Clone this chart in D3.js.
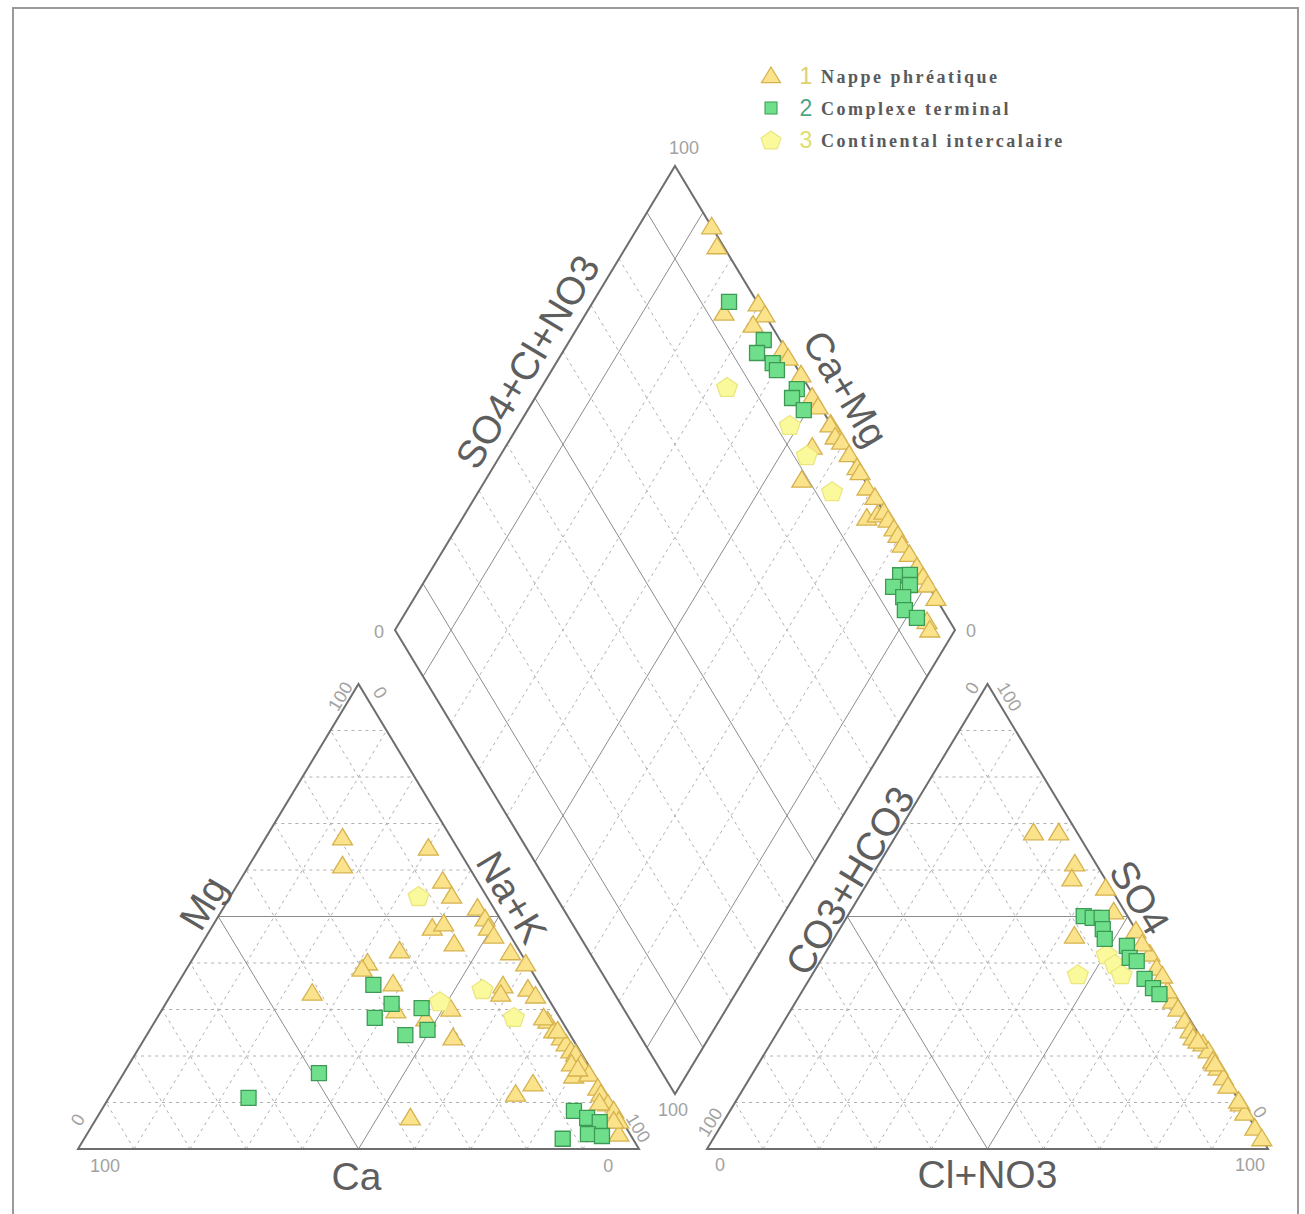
<!DOCTYPE html>
<html>
<head>
<meta charset="utf-8">
<script src="https://cdn.jsdelivr.net/npm/d3@7"></script>
<style>
  html, body { margin: 0; padding: 0; background: #fff; }
  svg { display: block; }
</style>
</head>
<body>
<svg id="chart" width="1305" height="1214"></svg>
<script>
// ---- Sample compositions (% meq) ----
// Cation triangle: [Mg, Na+K]  (Ca = 100 - Mg - Na+K)
const nappeCations = [
  [66.9,13.7],[60.9,16.7],[64.7,30.1],[57.6,36.2],[54.4,39.4],[47.5,39.4],[48.4,41.0],[44.1,45.0],
  [42.6,36.0],[40.0,31.6],[38.7,31.3],[33.5,25.0],[35.5,38.4],[29.7,41.8],[30.1,51.4],[28.0,48.0],
  [23.9,54.9],[51.8,45.3],[49.5,47.8],[47.5,49.4],[45.8,51.2],[42.2,56.0],[39.8,59.9],[35.1,58.2],
  [33.3,58.7],[34.4,63.0],[32.9,65.1],[27.5,70.0],[25.4,72.1],[23.9,74.2],[22.6,75.7],[21.1,77.3],
  [20.4,78.5],[18.3,80.5],[15.7,80.5],[16.1,83.0],[13.1,86.1],[11.8,87.3],[9.7,89.6],[8.2,91.4],
  [6.0,93.4],[3.2,94.8],[14.0,74.1],[11.8,72.1],[6.7,55.9],[28.2,68.9],[25.4,72.8],[18.3,78.8],
  [17.2,80.5],[9.9,88.0],[6.0,92.5]
];
const complexeCations = [
  [35.3,35.0],[31.2,40.3],[28.2,38.8],[30.3,46.1],[24.5,46.1],[25.6,49.5],[16.3,34.8],
  [11.0,24.9],[8.2,84.3],[6.7,87.4],[5.8,90.1],[3.2,89.3],[2.8,92.0],[2.2,85.3]
];
const continentalCations = [[54.4,33.5],[31.8,48.6],[34.4,54.9],[28.4,63.5]];

// Anion triangle: [SO4, Cl+NO3]  (CO3+HCO3 = 100 - SO4 - Cl)
const nappeAnions = [
  [68.0,24.2],[68.0,28.7],[61.3,34.9],[58.1,36.0],[56.1,43.0],[51.0,47.0],[45.8,42.6],[46.9,53.0],
  [41.9,58.0],[38.9,60.7],[31.8,67.1],[30.1,68.9],[27.5,71.4],[25.4,73.4],[23.9,74.7],[22.6,77.1],
  [21.1,78.8],[18.9,80.7],[17.4,82.4],[15.3,84.4],[13.5,86.1],[9.7,90.2],[7.7,92.0],[4.5,95.4],
  [2.2,97.8],[34.0,65.1],[44.1,55.5],[37.2,62.6],[23.2,75.9],[18.3,81.4],[10.3,89.6]
];
const complexeAnions = [
  [50.1,42.1],[49.7,43.9],[49.7,45.5],[47.3,46.9],[45.2,48.3],[43.7,53.0],[41.1,54.8],
  [40.4,56.4],[36.6,59.7],[34.6,62.2],[33.3,64.0]
];
const continentalAnions = [[41.9,50.3],[39.8,52.8],[37.6,55.1],[37.6,47.3]];

// Diamond: [Na+K, SO4+Cl+NO3]
const nappeDiamond = [
  [13.1,100],[16.2,98.8],[24.6,92.9],[29.7,100],[32.1,100],[31.1,96.8],[39.1,99.4],[40.9,99.5],
  [45.0,100],[49.4,99.6],[51.5,99.6],[55.6,100],[57.7,100],[55.6,99.8],[57.8,99.4],[59.5,100],
  [54.8,94.2],[56.5,88.8],[62.2,100],[65.0,100],[66.1,100],[69.0,99.6],[71.4,100],[72.2,96.3],
  [73.7,98.5],[74.6,100],[76.2,99.9],[78.2,100],[79.6,100],[81.4,99.7],[83.7,100],[86.4,100],
  [88.6,100],[90.3,100],[93.2,100],[94.1,95.9],[95.5,95.5]
];
const complexeDiamond = [
  [24.3,95.0],[34.6,97.1],[34.8,94.5],[38.7,96.2],[40.2,96.2],[45.8,97.7],[45.9,95.9],[49.3,96.7],
  [84.3,96.1],[86.0,97.9],[84.3,93.6],[87.1,96.8],[87.2,94.3],[88.9,93.2],[91.9,94.5]
];
const continentalDiamond = [[33.1,85.5],[48.4,92.6],[54.7,92.4],[63.1,93.0]];

const groupNames = ["Nappe phréatique", "Complexe terminal", "Continental intercalaire"];
const groupNumbers = ["1", "2", "3"];
const gridSteps = [10, 20, 30, 40, 50, 60, 70, 80, 90];
const axisTitles = {
  mg: "Mg", ca: "Ca", nak: "Na+K",
  hco3: "CO3+HCO3", cl: "Cl+NO3", so4: "SO4",
  anionSum: "SO4+Cl+NO3", cationSum: "Ca+Mg"
};

// ---- Layout ----
const svg = d3.select("#chart");
const triY = d3.scaleLinear().domain([0, 100]).range([1149, 684]);
const catX = d3.scaleLinear().domain([0, 100]).range([78, 639]);
const anX  = d3.scaleLinear().domain([0, 100]).range([707, 1268]);
const dmX  = d3.scaleLinear().domain([0, 200]).range([395, 955]);
const dmY  = d3.scaleLinear().domain([-100, 100]).range([166, 1094]);

// projections (ternary and diamond) built on the linear scales
const cat = (mg, na) => [catX(na + mg / 2), triY(mg)];
const an  = (so4, cl) => [anX(cl + so4 / 2), triY(so4)];
const dia = (na, sc) => [dmX(sc + na), dmY(na - sc)];

const EDGE = "#6e6e6e", SOLID = "#8c8c8c", DASH = "#b0b0b0";
const TITLE_FONT = "'Liberation Sans', Arial, sans-serif";

// frame
svg.append("rect").attr("x", 13).attr("y", 8).attr("width", 1285).attr("height", 1215)
  .attr("fill", "none").attr("stroke", "#9a9a9a").attr("stroke-width", 2);

const gGrid = svg.append("g");
const lineGen = d3.line();

function seg(a, b, solid) {
  gGrid.append("path").attr("d", lineGen([a, b]))
    .attr("fill", "none")
    .attr("stroke", solid ? SOLID : DASH)
    .attr("stroke-width", 1)
    .attr("stroke-dasharray", solid ? null : "3,4");
}
function outline(pts) {
  gGrid.append("path").attr("d", lineGen(pts) + "Z")
    .attr("fill", "none").attr("stroke", EDGE).attr("stroke-width", 2)
    .attr("stroke-linejoin", "miter");
}

// ternary grids
function ternaryGrid(proj) {
  gridSteps.forEach(k => {
    const solid = k === 50;
    seg(proj(k, 0), proj(k, 100 - k), solid);        // first component const
    seg(proj(0, k), proj(100 - k, k), solid);        // second component const
    seg(proj(0, 100 - k), proj(100 - k, 0), solid);  // remainder const
  });
  outline([proj(0, 0), proj(100, 0), proj(0, 100)]);
}
ternaryGrid(cat);
ternaryGrid(an);

// diamond grid
gridSteps.forEach(k => {
  const solid = k === 10 || k === 50 || k === 90;
  seg(dia(k, 0), dia(k, 100), solid);
  seg(dia(0, k), dia(100, k), solid);
});
outline([dia(0, 0), dia(0, 100), dia(100, 100), dia(100, 0)]);

// ---- Labels ----
const gText = svg.append("g");

function edgeLabel(p0, p1, t, off, text, size, color) {
  const dx = p1[0] - p0[0], dy = p1[1] - p0[1];
  const ang = Math.atan2(dy, dx);
  const ux = Math.sin(ang), uy = -Math.cos(ang);
  const x = p0[0] + t * dx + off * ux, y = p0[1] + t * dy + off * uy;
  gText.append("text")
    .attr("transform", `translate(${x},${y}) rotate(${ang * 180 / Math.PI})`)
    .attr("text-anchor", "middle").attr("dominant-baseline", "central")
    .attr("font-family", TITLE_FONT).attr("font-size", size)
    .attr("fill", color).text(text);
}
function plainLabel(x, y, text, size, color) {
  gText.append("text").attr("x", x).attr("y", y)
    .attr("text-anchor", "middle").attr("dominant-baseline", "central")
    .attr("font-family", TITLE_FONT).attr("font-size", size)
    .attr("fill", color).text(text);
}

const TC = "#5e5e5e", TS = 39, KC = "#a2a2a2", KS = 18;

// cation triangle
const cBL = cat(0, 0), cBR = cat(0, 100), cTop = cat(100, 0);
edgeLabel(cBL, cTop, 0.507, 20, axisTitles.mg, TS, TC);
edgeLabel(cTop, cBR, 0.482, 21, axisTitles.nak, TS, TC);
plainLabel((cBL[0] + cBR[0]) / 2 - 2, 1176, axisTitles.ca, TS, TC);
edgeLabel(cBL, cTop, 0.046, 15, "0", KS, KC);
edgeLabel(cBL, cTop, 0.963, 9, "100", KS, KC);
edgeLabel(cTop, cBR, 0.034, 14, "0", KS, KC);
edgeLabel(cTop, cBR, 0.966, 10, "100", KS, KC);
plainLabel(catX(4.8), 1166, "100", KS, KC);
plainLabel(catX(94.5), 1166, "0", KS, KC);

// anion triangle
const aBL = an(0, 0), aBR = an(0, 100), aTop = an(100, 0);
edgeLabel(aBL, aTop, 0.559, 16, axisTitles.hco3, TS, TC);
edgeLabel(aTop, aBR, 0.481, 20, axisTitles.so4, TS, TC);
plainLabel((aBL[0] + aBR[0]) / 2, 1174, axisTitles.cl, TS, TC);
edgeLabel(aBL, aTop, 0.045, 11, "100", KS, KC);
edgeLabel(aBL, aTop, 0.979, 11, "0", KS, KC);
edgeLabel(aTop, aBR, 0.041, 12, "100", KS, KC);
edgeLabel(aTop, aBR, 0.934, 12, "0", KS, KC);
plainLabel(anX(2.3), 1165, "0", KS, KC);
plainLabel(anX(96.8), 1165, "100", KS, KC);

// diamond
const dL = dia(0, 0), dT = dia(0, 100), dR = dia(100, 100), dB = dia(100, 0);
edgeLabel(dL, dT, 0.55, 25, axisTitles.anionSum, TS, TC);
edgeLabel(dT, dR, 0.514, 31, axisTitles.cationSum, TS, TC);
plainLabel(dT[0] + 9, dT[1] - 18, "100", KS, KC);
plainLabel(dL[0] - 16, dL[1] + 2, "0", KS, KC);
plainLabel(dR[0] + 16, dR[1] + 1, "0", KS, KC);
plainLabel(dB[0] - 2, dB[1] + 16, "100", KS, KC);

// ---- Markers ----
const pentPts = r => d3.range(5).map(i => {
  const a = -Math.PI / 2 + i * 2 * Math.PI / 5;
  return [r * Math.cos(a), r * 0.95 * Math.sin(a) + 1];
});
const styles = [
  { path: "M0,-9.5L10,7L-10,7Z", fill: "#fbe38c", stroke: "#d6b24f" },
  { path: "M-7.5,-7.5H7.5V7.5H-7.5Z", fill: "#70df8b", stroke: "#3d9a55" },
  { path: lineGen(pentPts(11)) + "Z", fill: "#fafa9c", stroke: "#ece680" }
];

const gMarks = svg.append("g");
function plotGroup(data, proj, style) {
  gMarks.append("g").selectAll("path").data(data).join("path")
    .attr("d", style.path)
    .attr("transform", d => { const p = proj(d[0], d[1]); return `translate(${p[0]},${p[1]})`; })
    .attr("fill", style.fill).attr("stroke", style.stroke).attr("stroke-width", 1.3);
}
// draw order: triangles, pentagons, squares
plotGroup(nappeCations, cat, styles[0]);
plotGroup(nappeAnions, an, styles[0]);
plotGroup(nappeDiamond, dia, styles[0]);
plotGroup(continentalCations, cat, styles[2]);
plotGroup(continentalAnions, an, styles[2]);
plotGroup(continentalDiamond, dia, styles[2]);
plotGroup(complexeCations, cat, styles[1]);
plotGroup(complexeAnions, an, styles[1]);
plotGroup(complexeDiamond, dia, styles[1]);

// ---- Legend ----
const numColors = ["#ddd070", "#4fa585", "#e0de6a"];
const legendY = d3.scaleBand().domain(groupNames).range([60, 156]);
const gLeg = svg.append("g");
groupNames.forEach((name, i) => {
  const y = legendY(name) + legendY.bandwidth() / 2;
  gLeg.append("path").attr("d", styles[i].path)
    .attr("transform", `translate(771,${y}) scale(${i === 1 ? 0.8 : 0.95})`)
    .attr("fill", styles[i].fill).attr("stroke", styles[i].stroke).attr("stroke-width", 1.3);
  gLeg.append("text").attr("x", 806).attr("y", y).attr("dominant-baseline", "central")
    .attr("text-anchor", "middle").attr("font-family", TITLE_FONT).attr("font-size", 23)
    .attr("fill", numColors[i]).text(groupNumbers[i]);
  gLeg.append("text").attr("x", 821).attr("y", y + 1).attr("dominant-baseline", "central")
    .attr("font-family", "'Liberation Serif', 'Times New Roman', serif").attr("font-weight", "bold")
    .attr("font-size", 18).attr("letter-spacing", 2.5).attr("fill", "#5a5a5a").text(name);
});
</script>
</body>
</html>
